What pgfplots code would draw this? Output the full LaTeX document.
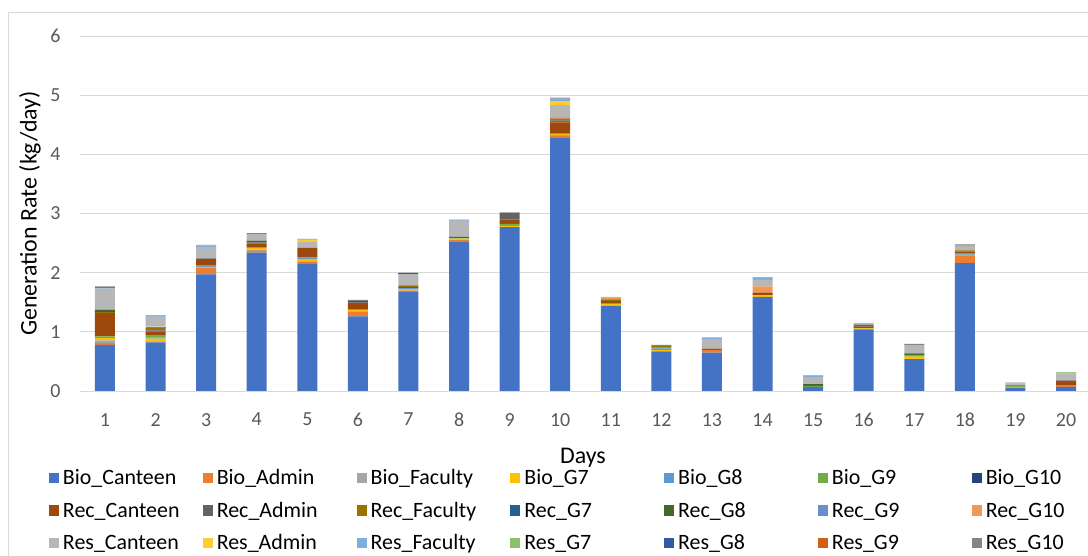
\documentclass[border=0pt]{standalone}
\usepackage{pgfplots}
\pgfplotsset{compat=1.18}
\usepackage{pgfplotstable}
\usepackage{fontspec}
\setmainfont{Carlito}

\definecolor{cBC}{HTML}{4472C4}
\definecolor{cBA}{HTML}{ED7D31}
\definecolor{cBF}{HTML}{A5A5A5}
\definecolor{cB7}{HTML}{FFC000}
\definecolor{cB8}{HTML}{5B9BD5}
\definecolor{cB9}{HTML}{70AD47}
\definecolor{cB10}{HTML}{264478}
\definecolor{cRC}{HTML}{9E480E}
\definecolor{cRA}{HTML}{636363}
\definecolor{cRF}{HTML}{997300}
\definecolor{cR7}{HTML}{255E91}
\definecolor{cR8}{HTML}{43682B}
\definecolor{cR9}{HTML}{698ED0}
\definecolor{cR10}{HTML}{F1975A}
\definecolor{cSC}{HTML}{B7B7B7}
\definecolor{cSA}{HTML}{FFCD33}
\definecolor{cSF}{HTML}{7CAFDD}
\definecolor{cS7}{HTML}{8CC168}
\definecolor{cS8}{HTML}{335AA1}
\definecolor{cS9}{HTML}{D26012}
\definecolor{cS10}{HTML}{848484}
\definecolor{gridgray}{HTML}{D9D9D9}
\definecolor{tickgray}{HTML}{595959}

\pgfplotstableread{
day BC BA BF B7 B8 B9 B10 RC RA RF R7 R8 R9 R10 SC SA SF S7 S8 S9 S10
1 0.78 0.03 0.045 0.04 0.015 0.015 0 0.39 0 0.02 0.02 0.02 0 0 0.355 0 0.01 0 0 0.02 0.01
2 0.82 0.01 0.01 0.045 0.02 0.03 0 0.07 0.02 0.045 0 0 0.02 0 0.16 0 0.01 0 0 0 0.02
3 1.97 0.11 0 0.02 0.01 0.01 0 0.11 0.01 0 0 0 0 0 0.19 0 0.03 0 0 0 0.01
4 2.34 0.03 0.02 0.03 0.01 0 0 0.06 0.02 0 0 0.03 0 0 0.11 0 0 0 0 0 0.02
5 2.15 0.04 0 0.03 0.03 0.01 0 0.16 0 0 0 0 0 0 0.1 0.04 0 0 0 0 0.01
6 1.26 0.085 0 0.02 0 0.02 0 0.11 0 0 0.03 0 0 0 0 0 0 0 0 0 0.015
7 1.67 0.03 0 0.02 0.02 0 0 0.02 0 0.025 0 0 0 0 0.19 0 0 0 0.015 0 0.01
8 2.53 0.02 0 0.025 0 0.015 0 0 0 0 0.015 0 0 0 0.27 0 0.01 0 0 0 0.01
9 2.77 0 0 0.02 0.015 0.02 0 0.07 0.11 0 0 0 0 0 0 0 0 0 0 0 0.015
10 4.28 0.03 0.02 0.01 0 0.02 0 0.18 0 0.03 0.02 0.01 0 0.03 0.2 0.07 0.04 0 0 0 0.02
11 1.44 0 0 0.03 0 0.02 0 0.03 0 0.03 0 0 0 0.02 0.02 0 0 0 0 0 0
12 0.67 0 0 0.02 0.03 0.02 0 0 0 0.02 0 0 0 0 0 0 0 0 0 0 0.02
13 0.65 0.045 0 0 0 0 0 0.02 0 0 0 0 0 0 0.16 0 0.03 0 0 0 0
14 1.59 0 0 0.03 0 0 0 0.02 0 0 0 0.02 0 0.11 0.11 0 0.03 0 0 0 0.01
15 0.07 0 0 0 0 0.015 0 0 0 0 0 0.03 0 0 0.12 0 0.03 0 0 0 0.005
16 1.04 0 0 0.02 0 0 0 0.03 0.03 0 0 0 0 0 0.03 0 0 0 0 0 0
17 0.54 0 0 0.04 0 0.03 0 0 0 0 0 0.025 0 0 0.14 0 0 0 0 0 0.02
18 2.16 0.13 0 0 0.02 0.02 0 0.025 0 0.02 0 0 0 0 0.075 0 0 0.02 0 0 0.01
19 0.055 0 0 0.015 0 0.015 0 0 0.01 0 0 0 0 0 0.035 0 0 0 0 0 0.01
20 0.07 0.03 0 0 0 0 0 0.05 0.03 0 0 0 0 0.015 0.1 0 0 0.02 0 0 0.005
}\data

\newcommand{\LE}[1]{\makebox[143.8bp][l]{\hspace{4bp}#1}}

\begin{document}
\begin{tikzpicture}
\path[use as bounding box, fill=white] (0bp,0bp) rectangle (1088bp,556bp);
\draw[gridgray, line width=0.75bp] (8bp,-20bp) -- (8bp,544bp) -- (1100bp,544bp);
\begin{axis}[
  at={(79.7bp,165bp)}, anchor=south west,
  scale only axis, width=1011.6bp, height=355bp,
  ybar stacked, bar width=20bp,
  xmin=0.5, xmax=20.5, ymin=0, ymax=6,
  xtick={1,...,20}, ytick={0,...,6},
  ymajorgrids, grid style={gridgray, line width=0.75bp},
  axis x line=bottom, axis y line=left,
  axis line style={draw=none}, tick style={draw=none},
  major tick length=0pt,
  xticklabel style={font=\fontsize{20}{24}\selectfont, color=tickgray, inner sep=0pt, anchor=north, yshift=-22bp},
  yticklabel style={font=\fontsize{20}{24}\selectfont, color=tickgray, inner sep=0pt, anchor=east, xshift=-19bp},
  /pgf/number format/assume math mode=true,
  ylabel={Generation Rate (kg/day)},
  ylabel style={font=\fontsize{24}{28}\selectfont, at={(axis description cs:-0.0491,0.5)}, anchor=center, rotate=0},
  xlabel={Days},
  xlabel style={font=\fontsize{24}{28}\selectfont, at={(axis description cs:0.4975,-0.2055)}, anchor=base},
  legend columns=7,
  legend cell align=left,
  legend image code/.code={\fill[#1] (0bp,-5bp) rectangle (10bp,5bp);},
  legend style={at={(axis description cs:-0.03035,-0.1993)}, anchor=north west,
    draw=none, fill=none, inner sep=0pt, outer sep=0pt,
    font=\fontsize{22}{26}\selectfont,
    nodes={inner sep=0pt, outer sep=0pt, text height=22.75bp, text depth=9.75bp},
    column sep=0pt, row sep=0pt},
  every axis plot/.append style={draw=none},
]
\addplot[fill=cBC] table[x=day,y=BC]{\data}; \addlegendentry{\LE{Bio\_Canteen}}
\addplot[fill=cBA] table[x=day,y=BA]{\data}; \addlegendentry{\LE{Bio\_Admin}}
\addplot[fill=cBF] table[x=day,y=BF]{\data}; \addlegendentry{\LE{Bio\_Faculty}}
\addplot[fill=cB7] table[x=day,y=B7]{\data}; \addlegendentry{\LE{Bio\_G7}}
\addplot[fill=cB8] table[x=day,y=B8]{\data}; \addlegendentry{\LE{Bio\_G8}}
\addplot[fill=cB9] table[x=day,y=B9]{\data}; \addlegendentry{\LE{Bio\_G9}}
\addplot[fill=cB10] table[x=day,y=B10]{\data}; \addlegendentry{\LE{Bio\_G10}}
\addplot[fill=cRC] table[x=day,y=RC]{\data}; \addlegendentry{\LE{Rec\_Canteen}}
\addplot[fill=cRA] table[x=day,y=RA]{\data}; \addlegendentry{\LE{Rec\_Admin}}
\addplot[fill=cRF] table[x=day,y=RF]{\data}; \addlegendentry{\LE{Rec\_Faculty}}
\addplot[fill=cR7] table[x=day,y=R7]{\data}; \addlegendentry{\LE{Rec\_G7}}
\addplot[fill=cR8] table[x=day,y=R8]{\data}; \addlegendentry{\LE{Rec\_G8}}
\addplot[fill=cR9] table[x=day,y=R9]{\data}; \addlegendentry{\LE{Rec\_G9}}
\addplot[fill=cR10] table[x=day,y=R10]{\data}; \addlegendentry{\LE{Rec\_G10}}
\addplot[fill=cSC] table[x=day,y=SC]{\data}; \addlegendentry{\LE{Res\_Canteen}}
\addplot[fill=cSA] table[x=day,y=SA]{\data}; \addlegendentry{\LE{Res\_Admin}}
\addplot[fill=cSF] table[x=day,y=SF]{\data}; \addlegendentry{\LE{Res\_Faculty}}
\addplot[fill=cS7] table[x=day,y=S7]{\data}; \addlegendentry{\LE{Res\_G7}}
\addplot[fill=cS8] table[x=day,y=S8]{\data}; \addlegendentry{\LE{Res\_G8}}
\addplot[fill=cS9] table[x=day,y=S9]{\data}; \addlegendentry{\LE{Res\_G9}}
\addplot[fill=cS10] table[x=day,y=S10]{\data}; \addlegendentry{\LE{Res\_G10}}
\end{axis}
\end{tikzpicture}
\end{document}
